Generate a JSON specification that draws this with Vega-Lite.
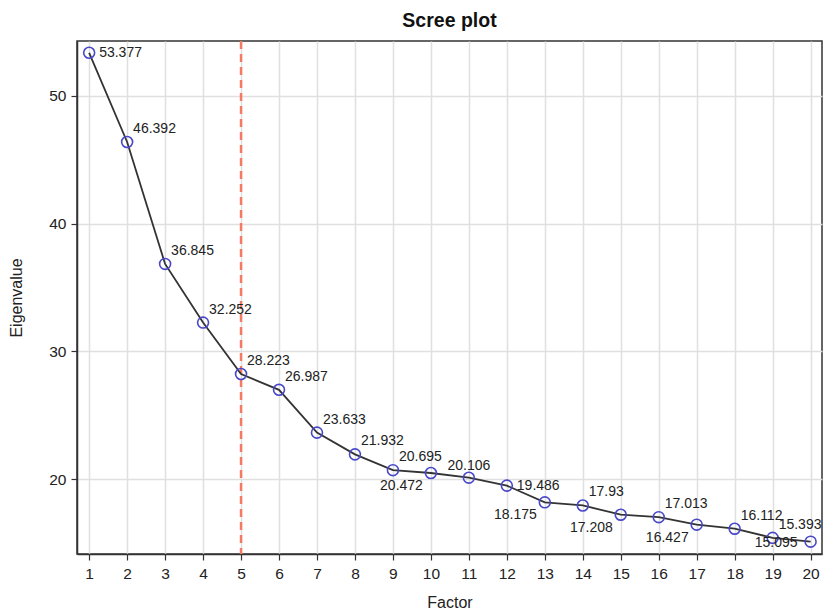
{
  "$schema": "https://vega.github.io/schema/vega-lite/v6.json",
  "autosize": "none",
  "width": 745,
  "height": 513,
  "padding": {"left": 77, "top": 41, "right": 1, "bottom": 57},
  "background": "white",
  "config": {
    "font": "Liberation Sans",
    "view": {"stroke": "#333333", "strokeWidth": 1.5},
    "axis": {
      "gridColor": "#e0e0e0",
      "gridWidth": 1.5,
      "domainColor": "#333333",
      "domainWidth": 1.5,
      "tickColor": "#333333",
      "tickSize": 6,
      "tickWidth": 1.2,
      "labelColor": "#222222",
      "labelFontSize": 15.5,
      "titleColor": "#222222",
      "titleFontSize": 16,
      "titleFontWeight": "normal"
    }
  },
  "title": {"text": "Scree plot", "fontSize": 19.5, "fontWeight": "bold", "color": "#111111", "anchor": "middle", "offset": 8},
  "data": {
    "values": [
      {"factor": 1, "eigenvalue": 53.377},
      {"factor": 2, "eigenvalue": 46.392},
      {"factor": 3, "eigenvalue": 36.845},
      {"factor": 4, "eigenvalue": 32.252},
      {"factor": 5, "eigenvalue": 28.223},
      {"factor": 6, "eigenvalue": 26.987},
      {"factor": 7, "eigenvalue": 23.633},
      {"factor": 8, "eigenvalue": 21.932},
      {"factor": 9, "eigenvalue": 20.695},
      {"factor": 10, "eigenvalue": 20.472},
      {"factor": 11, "eigenvalue": 20.106},
      {"factor": 12, "eigenvalue": 19.486},
      {"factor": 13, "eigenvalue": 18.175},
      {"factor": 14, "eigenvalue": 17.93},
      {"factor": 15, "eigenvalue": 17.208},
      {"factor": 16, "eigenvalue": 17.013},
      {"factor": 17, "eigenvalue": 16.427},
      {"factor": 18, "eigenvalue": 16.112},
      {"factor": 19, "eigenvalue": 15.393},
      {"factor": 20, "eigenvalue": 15.095}
    ]
  },
  "encoding": {
    "x": {
      "field": "factor", "type": "quantitative",
      "scale": {"domain": [0.68, 20.3], "nice": false, "zero": false},
      "axis": {"values": [1,2,3,4,5,6,7,8,9,10,11,12,13,14,15,16,17,18,19,20], "title": "Factor", "labelPadding": 6, "titlePadding": 13}
    },
    "y": {
      "field": "eigenvalue", "type": "quantitative",
      "scale": {"domain": [14.13, 54.3], "nice": false, "zero": false},
      "axis": {"values": [20, 30, 40, 50], "title": "Eigenvalue", "labelPadding": 5, "titlePadding": 24}
    }
  },
  "layer": [
    {
      "data": {"values": [{"cutoff": 5}]},
      "mark": {"type": "rule", "color": "#f47a62", "strokeWidth": 2.5, "strokeDash": [8, 5]},
      "encoding": {"x": {"field": "cutoff", "type": "quantitative"}, "y": null}
    },
    {
      "mark": {"type": "line", "color": "#333333", "strokeWidth": 1.8}
    },
    {
      "mark": {"type": "point", "shape": "circle", "filled": false, "color": "#4848c8", "size": 120, "strokeWidth": 1.6, "opacity": 1}
    },
    {
      "transform": [{"filter": {"field": "factor", "oneOf": [1, 12]}}],
      "mark": {"type": "text", "align": "left", "baseline": "middle", "dx": 10, "fontSize": 14, "color": "#222222"},
      "encoding": {"text": {"field": "eigenvalue", "type": "nominal"}}
    },
    {
      "transform": [{"filter": {"field": "factor", "oneOf": [2, 3, 4, 5, 6, 7, 8, 9, 14, 16, 18, 19]}}],
      "mark": {"type": "text", "align": "left", "baseline": "middle", "dx": 6, "dy": -13, "fontSize": 14, "color": "#222222"},
      "encoding": {"text": {"field": "eigenvalue", "type": "nominal"}}
    },
    {
      "transform": [{"filter": {"field": "factor", "oneOf": [11]}}],
      "mark": {"type": "text", "align": "center", "baseline": "middle", "dy": -12, "fontSize": 14, "color": "#222222"},
      "encoding": {"text": {"field": "eigenvalue", "type": "nominal"}}
    },
    {
      "transform": [{"filter": {"field": "factor", "oneOf": [10, 13, 15, 17]}}],
      "mark": {"type": "text", "align": "right", "baseline": "middle", "dx": -8, "dy": 13, "fontSize": 14, "color": "#222222"},
      "encoding": {"text": {"field": "eigenvalue", "type": "nominal"}}
    },
    {
      "transform": [{"filter": {"field": "factor", "oneOf": [20]}}],
      "mark": {"type": "text", "align": "right", "baseline": "middle", "dx": -13, "dy": 1, "fontSize": 14, "color": "#222222"},
      "encoding": {"text": {"field": "eigenvalue", "type": "nominal"}}
    }
  ]
}
